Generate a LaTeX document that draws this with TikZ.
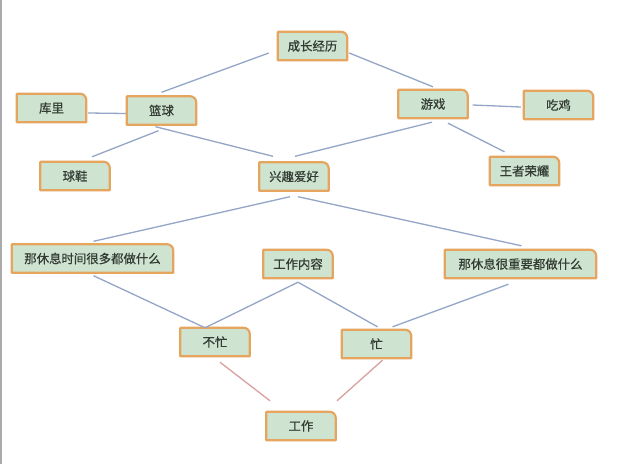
\documentclass[tikz,border=0pt]{standalone}
\usepackage{fontspec}
\newfontfamily\cjk[FakeBold=0.6]{Noto Sans CJK SC}
\usetikzlibrary{backgrounds,calc}
\definecolor{boxfill}{HTML}{CFE4D0}
\definecolor{boxedge}{HTML}{E6A55E}
\definecolor{txtcol}{HTML}{333B33}
\definecolor{linkblue}{HTML}{93A6C8}
\definecolor{linkred}{HTML}{D8A0A0}
\definecolor{frame}{HTML}{AAAAAA}
\tikzset{
  box/.style={inner sep=0pt, minimum width=69pt, minimum height=28pt,
    font=\cjk\fontsize{12.4pt}{14pt}\selectfont, text=txtcol},
  shapeline/.style={draw=boxedge, fill=boxfill, line width=2.2pt, line join=round},
  link/.style={draw=linkblue, line width=1.3pt},
  redlink/.style={draw=linkred, line width=1.3pt},
}
\newcommand{\boxshape}[1]{%
  \path[shapeline] (#1.south west) -- (#1.north west) -- ([xshift=-6pt]#1.north east)
    arc[start angle=90, end angle=0, radius=6pt] -- (#1.south east) -- cycle;}
\begin{document}
\begin{tikzpicture}[x=1pt, y=-1pt]
\useasboundingbox (0,0) rectangle (640,464);

\node[box] (root) at (312.5,46) {成长经历};
\node[box] (kuli) at (51.5,108) {库里};
\node[box] (lanqiu) at (161.5,110.5) {篮球};
\node[box] (youxi) at (433,104) {游戏};
\node[box] (chiji) at (558.5,105) {吃鸡};
\node[box] (qiuxie) at (75,176) {球鞋};
\node[box] (xingqu) at (294,176.5) {兴趣爱好};
\node[box] (wangzhe) at (524.5,171) {王者荣耀};
\node[box, minimum width=161pt] (duo) at (92.5,258.5) {那休息时间很多都做什么};
\node[box] (neirong) at (298,264) {工作内容};
\node[box, minimum width=151pt] (zhong) at (520.5,264) {那休息很重要都做什么};
\node[box] (bumang) at (215,342) {不忙};
\node[box] (mang) at (376.5,344) {忙};
\node[box] (gongzuo) at (301,426) {工作};

\begin{scope}[on background layer]
\fill[white] (0,0) rectangle (640,464);
\draw[frame, line width=2pt] (1,0) -- (1,464);
\foreach \n in {root,kuli,lanqiu,youxi,chiji,qiuxie,xingqu,wangzhe,duo,neirong,zhong,bumang,mang,gongzuo}
  {\boxshape{\n}}
\end{scope}

% connectors
\draw[link] ([shift={(-9,7)}]root.west) -- ([shift={(0,-4)}]lanqiu.north);
\draw[link] ([shift={(2,7)}]root.east) -- ([shift={(0,-3)}]youxi.north);
\draw[link] ([shift={(2,5)}]kuli.east) -- ([shift={(-1,3)}]lanqiu.west);
\draw[link] ([shift={(-3,6)}]lanqiu.south) -- ([shift={(17,-5)}]qiuxie.north);
\draw[link] ([shift={(-6,2)}]lanqiu.south) -- ([shift={(-21,-6)}]xingqu.north);
\draw[link] ([shift={(-1,4)}]youxi.south) -- ([shift={(1,-6)}]xingqu.north);
\draw[link] ([shift={(5,1)}]youxi.east) -- ([shift={(-3,2)}]chiji.west);
\draw[link] ([shift={(15,5)}]youxi.south) -- ([shift={(-20,-5)}]wangzhe.north);
\draw[link] ([shift={(-4,6)}]xingqu.south) -- ([shift={(1,-3)}]duo.north);
\draw[link] ([shift={(4,6)}]xingqu.south) -- ([shift={(1,-4)}]zhong.north);
\draw[link] ([shift={(1,3)}]duo.south) -- ([shift={(-10,0)}]bumang.north);
\draw[link] ([shift={(0,4)}]neirong.south) -- ([shift={(-10,0)}]bumang.north);
\draw[link] ([shift={(0,4)}]neirong.south) -- ([shift={(1,-3)}]mang.north);
\draw[link] ([shift={(-12,6)}]zhong.south) -- ([shift={(16,-3)}]mang.north);
\draw[redlink] ([shift={(5,6)}]bumang.south) -- ([shift={(-31,-11)}]gongzuo.north);
\draw[redlink] ([shift={(6,2)}]mang.south) -- ([shift={(36,-11)}]gongzuo.north);
\end{tikzpicture}
\end{document}
